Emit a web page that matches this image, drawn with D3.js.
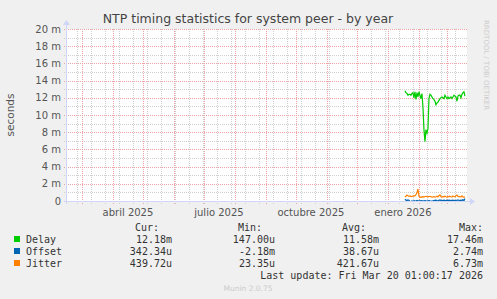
<!DOCTYPE html>
<html>
<head>
<meta charset="utf-8">
<script src="https://cdn.jsdelivr.net/npm/d3@7"></script>
<style>
  body { margin: 0; background: #f0f0f0; }
  text { font-family: "DejaVu Sans", sans-serif; }
  .mono { font-family: "DejaVu Sans Mono", monospace; font-size: 10px; fill: #333; }
</style>
</head>
<body>
<div id="chart"></div>
<script>
// data, in milliseconds, one sample per day starting at firstDay
var firstDay = "2026-01-18";
var lastUpdate = "2026-03-20T01:00:17";

var delay = [12.8, 12.6, 12.5, 12.3, 12.4, 12.4, 12.3, 12.5, 12.6, 12.0, 12.7, 11.8, 12.6, 12.1, 12.7, 12.3,
  11.9, 12.5, 10.9, 8.3, 6.9, 8.3, 7.9, 8.4, 11.9, 12.4, 12.3, 12.1, 11.9, 11.8, 11.6, 11.2, 11.4, 11.5,
  11.7, 11.9, 12.0, 12.1, 12.0, 11.9, 12.3, 12.1, 11.9, 12.1, 11.9, 12.0, 12.1, 11.9, 12.1, 12.3, 12.2,
  12.1, 11.6, 12.2, 12.3, 12.3, 12.0, 12.4, 12.6, 12.7, 12.2];
var offset = [0.22, 0.10, 0.05, 0.12, 0.08, -0.05, -0.10, 0.02, -0.08, 0.05, 0.02, 0.00, 0.06, 0.03, -0.02,
  0.05, 0.02, 0.04, 0.00, 0.03, 0.05, 0.01, -0.02, 0.03, 0.05, 0.02, 0.00, -0.04, 0.02, 0.05, 0.08, 0.10,
  0.06, 0.03, 0.08, 0.12, 0.05, 0.08, 0.06, 0.10, 0.07, 0.05, 0.09, 0.06, 0.10, 0.08, 0.04, 0.07, 0.10,
  0.06, 0.08, 0.05, 0.09, 0.12, 0.06, 0.08, 0.10, 0.05, 0.15, 0.02, 0.28];
var jitter = [0.45, 0.55, 0.70, 0.62, 0.55, 0.58, 0.52, 0.55, 0.60, 0.58, 0.62, 0.75, 0.95, 1.40, 0.55, 0.45,
  0.42, 0.48, 0.50, 0.46, 0.52, 0.55, 0.50, 0.48, 0.52, 0.55, 0.50, 0.45, 0.48, 0.52, 0.46, 0.50, 0.55,
  0.48, 0.62, 0.70, 0.50, 0.45, 0.52, 0.48, 0.55, 0.50, 0.46, 0.52, 0.48, 0.55, 0.50, 0.46, 0.58, 0.52,
  0.48, 0.62, 0.70, 0.55, 0.48, 0.52, 0.46, 0.60, 0.50, 0.44, 0.50];

var yTicks = [0, 2, 4, 6, 8, 10, 12, 14, 16, 18, 20];
var yTickLabels = ["0", "2 m", "4 m", "6 m", "8 m", "10 m", "12 m", "14 m", "16 m", "18 m", "20 m"];
var monthLabels = ["abril 2025", "julio 2025", "octubre 2025", "enero 2026"];
var monthLabelDates = ["2025-04-01", "2025-07-01", "2025-10-01", "2026-01-01"];

var seriesNames = ["Delay", "Offset", "Jitter"];
var seriesColors = ["#00cc00", "#0066b3", "#ff8000"];
var legendCur = ["12.18m", "342.34u", "439.72u"];
var legendMin = ["147.00u", "-2.18m", "23.35u"];
var legendAvg = ["11.58m", "38.67u", "421.67u"];
var legendMax = ["17.46m", "2.74m", "6.73m"];

var svgWidth = 497;
var svgHeight = 299;
var plot = { left: 66, right: 466, top: 29, bottom: 201 };

var svg = d3.select("#chart")
  .append("svg")
  .attr("width", svgWidth)
  .attr("height", svgHeight);

svg.append("rect")
  .attr("width", svgWidth)
  .attr("height", svgHeight)
  .attr("fill", "#f0f0f0");

var parseDay = d3.utcParse("%Y-%m-%d");
var endTime = d3.utcParse("%Y-%m-%dT%H:%M:%S")(lastUpdate);
var startTime = d3.utcDay.offset(endTime, -400);
var day0 = parseDay(firstDay);

var x = d3.scaleUtc()
  .domain([startTime, endTime])
  .range([plot.left, plot.right]);

var y = d3.scaleLinear()
  .domain([0, 20])
  .range([plot.bottom, plot.top]);

// canvas
svg.append("rect")
  .attr("x", plot.left)
  .attr("y", plot.top)
  .attr("width", plot.right - plot.left + 1)
  .attr("height", plot.bottom - plot.top)
  .attr("fill", "#ffffff");

// grid
var minorX = d3.utcMonday.every(2).range(startTime, endTime);
var majorX = d3.utcMonth.range(startTime, endTime);
var minorY = d3.range(1, 20, 2);

var grid = svg.append("g").attr("shape-rendering", "crispEdges");

grid.selectAll(".vminor")
  .data(minorX)
  .enter()
  .append("line")
  .attr("x1", d => Math.round(x(d)) + 0.5)
  .attr("x2", d => Math.round(x(d)) + 0.5)
  .attr("y1", plot.top)
  .attr("y2", plot.bottom + 3)
  .attr("stroke", "#cfcfcf")
  .attr("stroke-dasharray", "1,1");

grid.selectAll(".hminor")
  .data(minorY)
  .enter()
  .append("line")
  .attr("x1", plot.left - 2)
  .attr("x2", plot.right + 1)
  .attr("y1", d => Math.round(y(d)) + 0.5)
  .attr("y2", d => Math.round(y(d)) + 0.5)
  .attr("stroke", "#cfcfcf")
  .attr("stroke-dasharray", "1,1");

grid.selectAll(".vmajor")
  .data(majorX)
  .enter()
  .append("line")
  .attr("x1", d => Math.round(x(d)) + 0.5)
  .attr("x2", d => Math.round(x(d)) + 0.5)
  .attr("y1", plot.top)
  .attr("y2", plot.bottom + 3)
  .attr("stroke", "#eba3a3")
  .attr("stroke-dasharray", "1,1");

grid.selectAll(".hmajor")
  .data(yTicks)
  .enter()
  .append("line")
  .attr("x1", plot.left - 2)
  .attr("x2", plot.right + 1)
  .attr("y1", d => Math.round(y(d)) + 0.5)
  .attr("y2", d => Math.round(y(d)) + 0.5)
  .attr("stroke", "#eba3a3")
  .attr("stroke-dasharray", "1,1");

// axes lines + arrows
var axisColor = "#cfd6f8";
svg.append("line")
  .attr("x1", plot.left - 2).attr("x2", plot.right + 4)
  .attr("y1", plot.bottom + 0.5).attr("y2", plot.bottom + 0.5)
  .attr("stroke", axisColor);
svg.append("line")
  .attr("x1", plot.left + 0.5).attr("x2", plot.left + 0.5)
  .attr("y1", plot.bottom + 3).attr("y2", plot.top - 5)
  .attr("stroke", axisColor);
svg.append("path")
  .attr("d", `M${plot.right + 4},${plot.bottom - 3}L${plot.right + 9},${plot.bottom + 0.5}L${plot.right + 4},${plot.bottom + 4}Z`)
  .attr("fill", axisColor);
svg.append("path")
  .attr("d", `M${plot.left - 3},${plot.top - 4}L${plot.left + 0.5},${plot.top - 9}L${plot.left + 4},${plot.top - 4}Z`)
  .attr("fill", axisColor);

// y labels
svg.selectAll(".ylab")
  .data(yTicks)
  .enter()
  .append("text")
  .attr("x", 61)
  .attr("y", d => y(d) + 3.5)
  .attr("text-anchor", "end")
  .attr("font-size", "10px")
  .attr("fill", "#555")
  .text((d, i) => yTickLabels[i]);

// x labels, centred mid-month like rrdtool
svg.selectAll(".xlab")
  .data(monthLabelDates)
  .enter()
  .append("text")
  .attr("x", d => x(d3.utcDay.offset(parseDay(d), 15)))
  .attr("y", 216)
  .attr("text-anchor", "middle")
  .attr("font-size", "10px")
  .attr("fill", "#555")
  .text((d, i) => monthLabels[i]);

// series
svg.append("clipPath").attr("id", "clip")
  .append("rect")
  .attr("x", plot.left).attr("y", plot.top)
  .attr("width", plot.right - plot.left + 1).attr("height", plot.bottom - plot.top);

var line = d3.line()
  .x((d, i) => x(d3.utcDay.offset(day0, i)))
  .y(d => y(d));

var series = [delay, offset, jitter];
svg.append("g")
  .attr("clip-path", "url(#clip)")
  .selectAll("path")
  .data(series)
  .enter()
  .append("path")
  .attr("d", d => line(d))
  .attr("fill", "none")
  .attr("stroke", (d, i) => seriesColors[i])
  .attr("stroke-width", 1.2);

// title
svg.append("text")
  .attr("x", 248)
  .attr("y", 23)
  .attr("text-anchor", "middle")
  .attr("font-size", "12.5px")
  .attr("fill", "#444")
  .text("NTP timing statistics for system peer - by year");

// y axis title
svg.append("text")
  .attr("transform", "translate(14, 115) rotate(-90)")
  .attr("text-anchor", "middle")
  .attr("font-size", "10.5px")
  .attr("fill", "#555")
  .text("seconds");

// side watermark
svg.append("text")
  .attr("transform", "translate(484, 20) rotate(90)")
  .attr("font-size", "7px")
  .attr("fill", "#cccccc")
  .text("RRDTOOL / TOBI OETIKER");

// legend
var headers = ["Cur:", "Min:", "Avg:", "Max:"];
var colRight = [159, 262, 366, 483];
var valRight = [172, 275, 379, 483];
var headerRow = svg.append("g");
headers.forEach(function (h, i) {
  headerRow.append("text")
    .attr("class", "mono")
    .attr("x", colRight[i])
    .attr("y", 231)
    .attr("text-anchor", "end")
    .text(h);
});

var cols = [legendCur, legendMin, legendAvg, legendMax];
seriesNames.forEach(function (name, r) {
  var ry = 243 + r * 12;
  svg.append("rect")
    .attr("x", 14).attr("y", ry - 7)
    .attr("width", 6).attr("height", 6)
    .attr("fill", seriesColors[r]);
  svg.append("text")
    .attr("class", "mono")
    .attr("x", 26).attr("y", ry)
    .text(name);
  cols.forEach(function (c, ci) {
    svg.append("text")
      .attr("class", "mono")
      .attr("x", valRight[ci]).attr("y", ry)
      .attr("text-anchor", "end")
      .text(c[r]);
  });
});

svg.append("text")
  .attr("class", "mono")
  .attr("x", 483).attr("y", 279)
  .attr("text-anchor", "end")
  .text("Last update: Fri Mar 20 01:00:17 2026");

svg.append("text")
  .attr("x", 248).attr("y", 291)
  .attr("text-anchor", "middle")
  .attr("font-size", "7.5px")
  .attr("fill", "#cccccc")
  .text("Munin 2.0.75");
</script>
</body>
</html>
